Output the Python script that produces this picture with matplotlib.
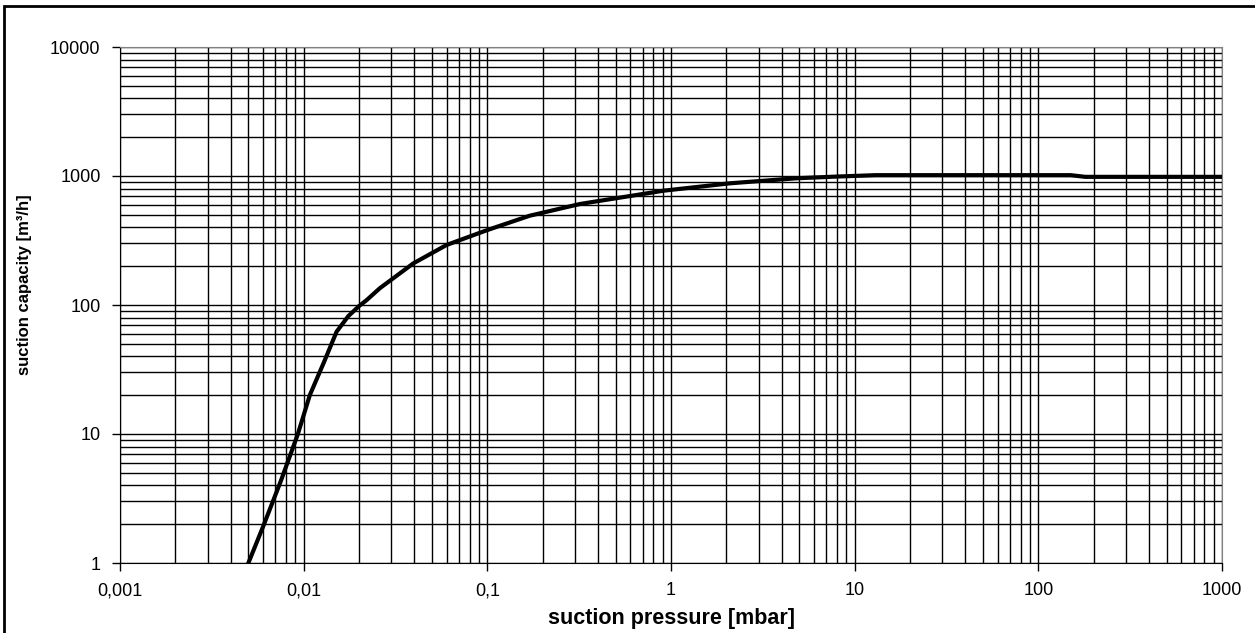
import matplotlib.pyplot as plt
from matplotlib.patches import Rectangle
from matplotlib.ticker import LogLocator, FixedLocator, NullFormatter

plt.rcParams['font.family'] = ['Liberation Sans', 'DejaVu Sans']

# suction pressure [mbar] / suction capacity [m3/h]
pressure = [0.005, 0.006, 0.0075, 0.0093, 0.0108, 0.013, 0.0151, 0.0175, 0.02,
            0.022, 0.026, 0.0395, 0.06, 0.1, 0.17, 0.32, 0.6, 0.91, 2.1, 4.8, 8,
            13, 50, 150, 180, 1000]
capacity = [1, 1.9, 4.3, 10, 20, 37, 62, 82, 98,
            109, 135, 210, 292, 381, 492, 607, 700, 769, 878, 960, 990,
            1015, 1015, 1015, 985, 985]

x_ticks = [0.001, 0.01, 0.1, 1, 10, 100, 1000]
x_labels = ['0,001', '0,01', '0,1', '1', '10', '100', '1000']
y_ticks = [1, 10, 100, 1000, 10000]
y_labels = ['1', '10', '100', '1000', '10000']

W, H = 1255, 633
fig = plt.figure(figsize=(W / 100, H / 100), dpi=100)
ax = fig.add_axes([120 / W, 1 - 563 / H, (1222 - 120) / W, (563 - 47) / H])

ax.plot(pressure, capacity, color='black', linewidth=3, zorder=3)

ax.set_xscale('log')
ax.set_yscale('log')
ax.set_xlim(0.001, 1000)
ax.set_ylim(1, 10000)

ax.xaxis.set_major_locator(FixedLocator(x_ticks))
ax.yaxis.set_major_locator(FixedLocator(y_ticks))
ax.set_xticklabels(x_labels)
ax.set_yticklabels(y_labels)
ax.xaxis.set_minor_locator(LogLocator(base=10, subs=range(2, 10), numticks=20))
ax.yaxis.set_minor_locator(LogLocator(base=10, subs=range(2, 10), numticks=20))
ax.xaxis.set_minor_formatter(NullFormatter())
ax.yaxis.set_minor_formatter(NullFormatter())

ax.grid(True, which='both', color='black', linewidth=1)
ax.tick_params(which='major', direction='out', length=6, width=1,
               labelsize=13, colors='black')
ax.tick_params(which='minor', length=0)
ax.tick_params(axis='x', pad=8)
ax.tick_params(axis='y', pad=8)
for side in ['top', 'right']:
    ax.spines[side].set_color('#808080')
for side in ['left', 'bottom']:
    ax.spines[side].set_color('black')

ax.set_xlabel('suction pressure [mbar]', fontsize=15.5, fontweight='bold')
ax.xaxis.set_label_coords(0.5, -0.088)
ax.set_ylabel('suction capacity [m³/h]', fontsize=12, fontweight='bold')
ax.yaxis.set_label_coords((32 - 120) / (1222 - 120), 0.54)

# outer chart border (left and top edges visible)
fig.patches.append(Rectangle((4 / W, -0.1), 1.2, 1.1 - 6 / H,
                             transform=fig.transFigure, fill=False,
                             edgecolor='black', linewidth=2))

fig.savefig('out.png', dpi=100)
